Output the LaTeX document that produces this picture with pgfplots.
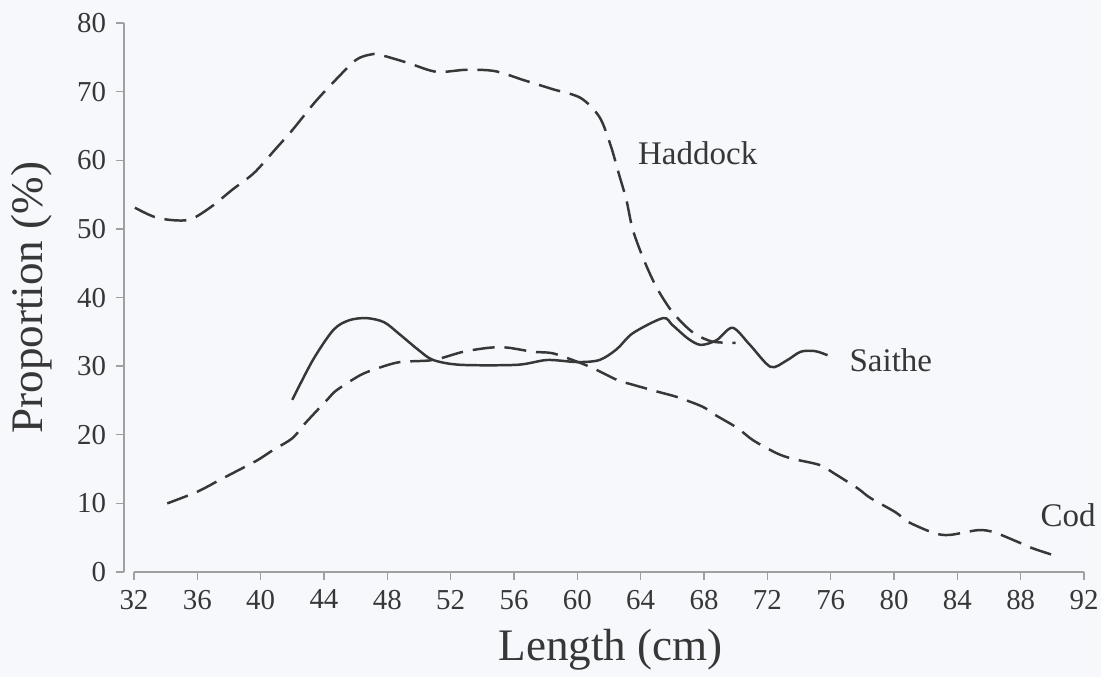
\documentclass[border=0pt]{standalone}
\usepackage{pgfplots}
\pgfplotsset{compat=1.18}
\usepackage{fontspec}
\setmainfont{Liberation Serif}
\definecolor{bg}{RGB}{246,248,252}
\definecolor{ink}{RGB}{55,55,55}
\definecolor{axisgray}{RGB}{160,160,160}
\begin{document}
\begin{tikzpicture}
\path[use as bounding box, fill=bg] (-45.09pt,-38.18pt) rectangle (355.27pt,208.0pt);
\begin{axis}[
  at={(0,0)}, anchor=south west,
  scale only axis, width=349.1pt, height=199.6pt,
  xmin=31.37, xmax=92, ymin=0, ymax=80,
  axis x line=bottom, axis y line=left,
  axis line style={-, draw=axisgray, line width=0.5pt},
  x axis line style={shorten <=3.6pt},
  xtick={32,36,...,92}, ytick={0,10,...,80},
  tick align=outside, major tick length=3pt,
  tick style={draw=axisgray, line width=0.5pt},
  /pgf/number format/assume math mode=true,
  ticklabel style={font=\fontsize{10.5}{12}\selectfont, text=ink},
  clip=false,
]
\addplot[ink, line width=0.9pt, smooth, dash pattern=on 8pt off 3.6pt] coordinates {
(32.06,53.1)(33.5,51.6)(35.4,51.3)(36.8,53.1)(38.2,55.7)(39.6,58.2)(41.0,61.8)(42.0,64.4)(43.4,68.4)(44.6,71.4)(46.0,74.6)(46.9,75.4)(47.5,75.4)(49.3,74.2)(51.1,72.9)(53.0,73.2)(54.8,73.0)(56.6,71.7)(58.4,70.4)(60.2,69.1)(61.4,66.3)(62.1,62.2)(62.6,58.2)(63.1,54.2)(63.5,49.9)(64.2,45.5)(65.0,41.5)(66.0,37.9)(67.25,35.0)(68.5,33.6)(70,33.4)
};
\addplot[ink, line width=0.9pt, smooth] coordinates {
(42.0,25.1)(43.3,30.9)(44.6,35.3)(45.6,36.7)(46.7,37.0)(47.8,36.4)(48.8,34.6)(50.0,32.3)(50.9,30.9)(52.6,30.2)(56.2,30.2)(58.1,30.9)(60.0,30.6)(61.4,30.9)(62.5,32.5)(63.5,34.8)(65.4,37.0)(66.0,36.0)(67.0,34.0)(67.8,33.1)(68.8,33.8)(69.8,35.6)(70.9,33.1)(72.2,29.9)(73.2,30.8)(74.1,32.1)(75.0,32.2)(75.8,31.6)
};
\addplot[ink, line width=0.9pt, smooth, dash pattern=on 8pt off 3.6pt] coordinates {
(34.1,10.0)(36.0,11.7)(37.4,13.4)(38.4,14.6)(39.8,16.3)(40.8,17.8)(42.0,19.5)(42.9,21.9)(44.2,25.1)(44.8,26.5)(46.3,28.7)(47.4,29.7)(48.8,30.6)(50.9,30.9)(52.8,32.1)(54.5,32.7)(55.6,32.7)(57.2,32.1)(58.4,31.9)(59.7,30.9)(61.0,29.7)(62.5,28.0)(63.5,27.3)(65.2,26.2)(66.3,25.5)(67.9,24.1)(68.7,22.9)(70.1,21.0)(71.1,19.2)(72.6,17.3)(73.6,16.5)(75.3,15.6)(76.2,14.4)(77.7,12.2)(78.5,10.8)(80.1,8.7)(80.9,7.3)(82.5,5.7)(83.5,5.4)(85.3,6.1)(86.3,5.8)(87.8,4.4)(88.7,3.5)(90.0,2.5)
};
\node[text=ink, font=\fontsize{12}{14}\selectfont] at (axis cs:67.6,61.1) {Haddock};
\node[text=ink, font=\fontsize{12}{14}\selectfont] at (axis cs:79.8,30.9) {Saithe};
\node[text=ink, font=\fontsize{12}{14}\selectfont] at (axis cs:91.0,8.3) {Cod};
\node[text=ink, font=\fontsize{16.4}{18}\selectfont] at (axis description cs:0.507,-0.142) {Length (cm)};
\node[text=ink, font=\fontsize{16.4}{18}\selectfont, rotate=90] at (axis description cs:-0.0958,0.5) {Proportion (\%)};
\end{axis}
\end{tikzpicture}
\end{document}
